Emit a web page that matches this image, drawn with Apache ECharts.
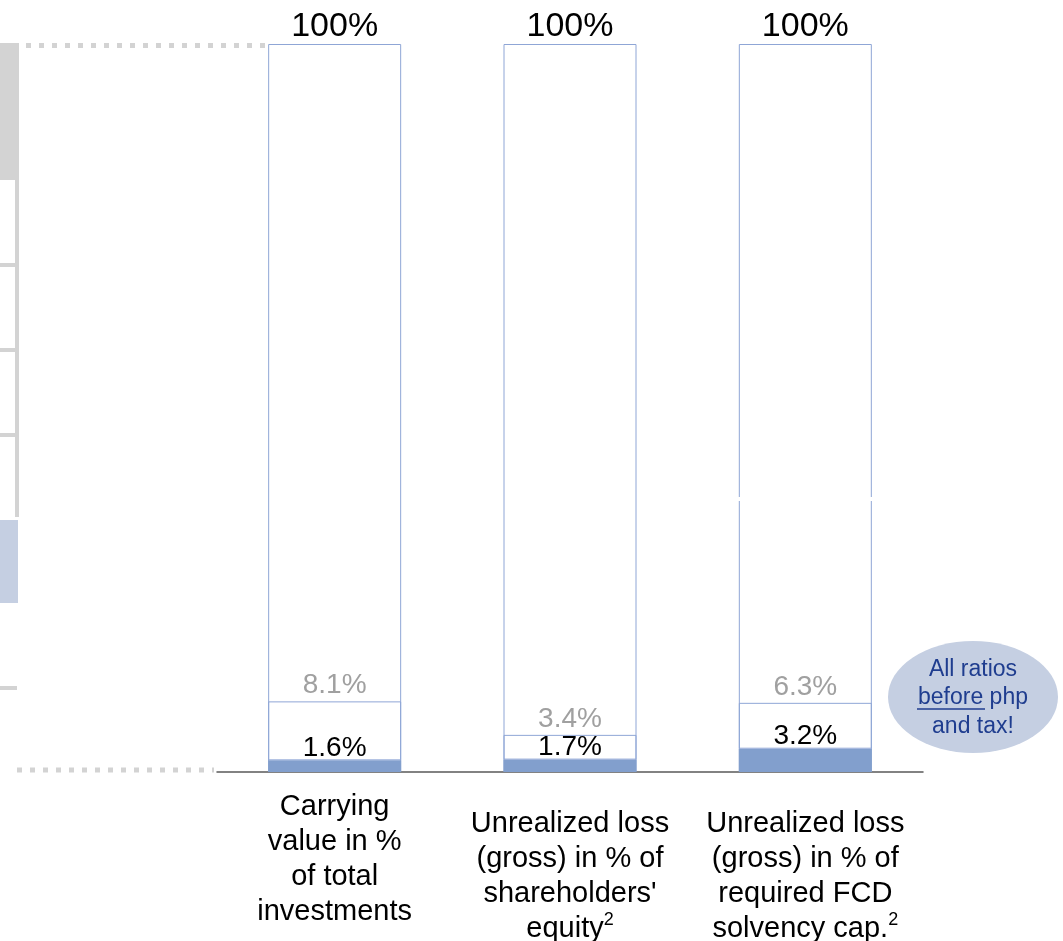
<!DOCTYPE html>
<html>
<head>
<meta charset="utf-8">
<script src="https://cdn.jsdelivr.net/npm/echarts@6/dist/echarts.min.js"></script>
<style>
  html, body { margin: 0; padding: 0; background: #ffffff; }
  #chart { width: 1063px; height: 941px; }
</style>
</head>
<body>
<div id="chart"></div>
<script>
// Category labels (line breaks kept as drawn) and their footnote markers
const categories = [
  'Carrying\nvalue in %\nof total\ninvestments',
  "Unrealized loss\n(gross) in % of\nshareholders'\nequity",
  'Unrealized loss\n(gross) in % of\nrequired FCD\nsolvency cap.'
];
const footnotes = ['', '2', '2'];

// Full-scale reference bar (100 %) and the two stacked ratios
const totalShare = [100, 100, 100];
const coreShare = [1.6, 1.7, 3.2];      // solid blue segment
const upperShare = [8.1, 3.4, 6.3];     // outlined segment on top

// Value at which the third bar's outline is interrupted (axis break)
const breakValue = 37.5;

const FONT = '"Liberation Sans", Arial, sans-serif';
const BAR_BLUE = '#829fcd';
const OUTLINE = '#8fa6d6';

const chart = echarts.init(document.getElementById('chart'), null, { renderer: 'canvas' });

const pct = p => p.value + '%';

chart.setOption({
  animation: false,
  backgroundColor: '#ffffff',
  textStyle: { fontFamily: FONT },
  grid: { left: 217, right: 140, top: 44, bottom: 169, containLabel: false, outerBoundsMode: 'none' },
  xAxis: {
    type: 'category',
    data: categories.map((c, i) => i === 0 ? c : { value: c, textStyle: { padding: [17, 0, 0, 0] } }),
    axisLine: { show: true, lineStyle: { color: '#595959', width: 1.5 } },
    axisTick: { show: false },
    axisLabel: {
      interval: 0,
      margin: 17,
      color: '#000000',
      fontFamily: FONT,
      fontSize: 29,
      lineHeight: 35,
      formatter: (value, idx) => footnotes[idx] ? value + '{sup|' + footnotes[idx] + '}' : value,
      rich: {
        sup: { fontSize: 18, lineHeight: 12, verticalAlign: 'top', color: '#000000', fontFamily: FONT }
      }
    }
  },
  yAxis: {
    type: 'value', min: 0, max: 100, show: false,
    splitLine: { show: false }
  },
  series: [
    {
      name: 'Total',
      type: 'bar',
      data: totalShare,
      barWidth: 133,
      barGap: '-100%',
      itemStyle: { color: '#ffffff', borderColor: OUTLINE, borderWidth: 1 },
      label: {
        show: true, position: 'top', distance: 0,
        formatter: pct, color: '#000000', fontSize: 34, fontFamily: FONT
      },
      emphasis: { disabled: true }
    },
    {
      name: 'Core',
      type: 'bar',
      stack: 'ratio',
      data: coreShare,
      barWidth: 133,
      itemStyle: { color: BAR_BLUE },
      label: {
        show: true, position: 'top', distance: -2,
        formatter: pct, color: '#000000', fontSize: 28, fontFamily: FONT
      },
      emphasis: { disabled: true }
    },
    {
      name: 'Upper',
      type: 'bar',
      stack: 'ratio',
      data: upperShare,
      barWidth: 133,
      itemStyle: { color: 'rgba(255,255,255,0)', borderColor: OUTLINE, borderWidth: 1 },
      label: {
        show: true, position: 'top', distance: 2,
        formatter: pct, color: '#a0a0a0', fontSize: 28, fontFamily: FONT
      },
      emphasis: { disabled: true }
    }
  ]
});

// Decorations: edge of the neighbouring panel, axis break and note bubble
const gray = '#d3d3d3';
const breakPt = chart.convertToPixel({ seriesIndex: 0 }, [2, breakValue]);

chart.setOption({
  graphic: [
    // neighbouring panel edge on the left
    { type: 'rect', shape: { x: 0, y: 43, width: 19, height: 137 }, style: { fill: gray }, silent: true },
    { type: 'rect', shape: { x: 15, y: 180, width: 4, height: 337 }, style: { fill: gray }, silent: true },
    { type: 'rect', shape: { x: 0, y: 263, width: 19, height: 4 }, style: { fill: gray }, silent: true },
    { type: 'rect', shape: { x: 0, y: 348, width: 19, height: 4 }, style: { fill: gray }, silent: true },
    { type: 'rect', shape: { x: 0, y: 433, width: 19, height: 4 }, style: { fill: gray }, silent: true },
    { type: 'rect', shape: { x: 0, y: 520, width: 18, height: 83 }, style: { fill: '#c5cfe2' }, silent: true },
    { type: 'rect', shape: { x: 0, y: 686, width: 17, height: 4 }, style: { fill: gray }, silent: true },
    { type: 'line', shape: { x1: 26, y1: 45.5, x2: 268, y2: 45.5 },
      style: { stroke: gray, lineWidth: 5, lineDash: [5, 8] }, silent: true },
    { type: 'line', shape: { x1: 17, y1: 770, x2: 214, y2: 770 },
      style: { stroke: gray, lineWidth: 5, lineDash: [5, 8] }, silent: true },
    // axis break on the third bar
    { type: 'rect', shape: { x: breakPt[0] - 70, y: breakPt[1] - 2, width: 140, height: 4 },
      style: { fill: '#ffffff' }, z: 10, silent: true },
    // note bubble
    { type: 'circle', x: 973, y: 697, scaleX: 85 / 56, shape: { cx: 0, cy: 0, r: 56 },
      style: { fill: '#c5cfe2' }, silent: true },
    { type: 'text', x: 973, y: 698, z: 5, silent: true,
      style: {
        text: 'All ratios\nbefore php\nand tax!',
        fill: '#1f3d8f', font: '23px ' + FONT, lineHeight: 28.5,
        align: 'center', verticalAlign: 'middle'
      } },
    { type: 'line', z: 5, silent: true, shape: { x1: 917, y1: 709, x2: 985, y2: 709 },
      style: { stroke: '#1f3d8f', lineWidth: 1.5 } }
  ]
});
</script>
</body>
</html>
